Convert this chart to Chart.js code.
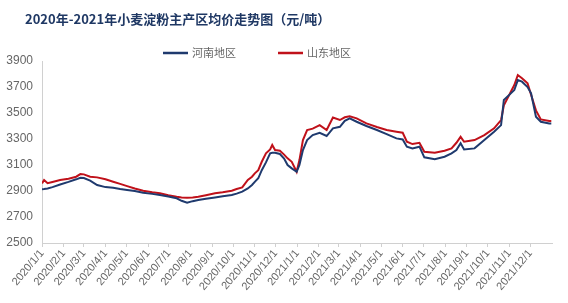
<!DOCTYPE html>
<html>
<head>
<meta charset="utf-8">
<script src="https://cdn.jsdelivr.net/npm/chart.js@4"></script>
<style>
  html, body { margin: 0; padding: 0; background: #fff; }
  #wrap { width: 568px; height: 303px; position: relative; }
</style>
</head>
<body>
<div id="wrap"><canvas id="chart" width="568" height="303"></canvas></div>
<script>
const TITLE = "2020年-2021年小麦淀粉主产区均价走势图（元/吨）";
const SERIES_NAMES = ["河南地区", "山东地区"];
const SERIES_COLORS = ["#1f3a6e", "#c0111a"];

const dates = [
  "2020-01-01", "2020-01-04", "2020-01-09", "2020-01-16", "2020-01-27", "2020-02-08",
  "2020-02-19", "2020-02-25", "2020-03-01", "2020-03-10", "2020-03-20", "2020-04-01",
  "2020-04-12", "2020-04-22", "2020-05-02", "2020-05-13", "2020-05-25", "2020-06-07",
  "2020-06-18", "2020-06-30", "2020-07-12", "2020-07-19", "2020-07-27", "2020-08-04",
  "2020-08-12", "2020-08-23", "2020-09-05", "2020-09-16", "2020-09-29", "2020-10-06",
  "2020-10-14", "2020-10-22", "2020-10-28", "2020-11-01", "2020-11-06", "2020-11-11",
  "2020-11-17", "2020-11-23", "2020-11-26", "2020-11-30", "2020-12-07", "2020-12-13",
  "2020-12-18", "2020-12-24", "2020-12-31", "2021-01-04", "2021-01-09", "2021-01-15",
  "2021-01-23", "2021-02-02", "2021-02-12", "2021-02-21", "2021-03-03", "2021-03-10",
  "2021-03-17", "2021-03-27", "2021-04-10", "2021-04-25", "2021-05-09", "2021-05-23",
  "2021-06-01", "2021-06-07", "2021-06-15", "2021-06-25", "2021-07-02", "2021-07-17",
  "2021-07-31", "2021-08-10", "2021-08-17", "2021-08-23", "2021-08-28", "2021-09-12",
  "2021-09-26", "2021-10-10", "2021-10-20", "2021-10-24", "2021-11-03", "2021-11-08",
  "2021-11-13", "2021-11-19", "2021-11-27", "2021-12-02", "2021-12-09", "2021-12-16",
  "2021-12-28", "2021-12-31",
];

const henan = [
  2913, 2915, 2920, 2930, 2950, 2970,
  2990, 3002, 3000, 2980, 2946, 2930,
  2925, 2915, 2908, 2900, 2887, 2878,
  2869, 2858, 2844, 2825, 2810, 2822,
  2831, 2840, 2851, 2860, 2869, 2880,
  2895, 2920, 2946, 2970, 2998, 3060,
  3120, 3190, 3194, 3194, 3185, 3150,
  3100, 3074, 3048, 3100, 3215, 3292,
  3330, 3348, 3323, 3382, 3394, 3440,
  3459, 3433, 3400, 3369, 3338, 3305,
  3297, 3241, 3228, 3241, 3159, 3144,
  3164, 3190, 3215, 3267, 3220, 3228,
  3292, 3356, 3407, 3600, 3651, 3677,
  3753, 3741, 3700, 3651, 3471, 3433,
  3420, 3420,
];

const shandong = [
  2959, 2985, 2960, 2970, 2985, 2995,
  3010, 3030, 3028, 3010, 3005, 2990,
  2971, 2955, 2938, 2920, 2902, 2890,
  2882, 2868, 2856, 2850, 2848, 2850,
  2856, 2868, 2882, 2890, 2902, 2915,
  2928, 2985, 3010, 3036, 3060, 3125,
  3190, 3220, 3254, 3215, 3210, 3180,
  3151, 3125, 3048, 3138, 3292, 3369,
  3380, 3407, 3369, 3465, 3446, 3467,
  3475, 3459, 3420, 3392, 3369, 3356,
  3348, 3279, 3261, 3271, 3202, 3194,
  3210, 3228, 3271, 3317, 3279, 3292,
  3330, 3382, 3446, 3560, 3664, 3715,
  3792, 3767, 3728, 3640, 3520, 3451,
  3438, 3438,
];

const monthTicks = [
  "2020/1/1", "2020/2/1", "2020/3/1", "2020/4/1", "2020/5/1", "2020/6/1",
  "2020/7/1", "2020/8/1", "2020/9/1", "2020/10/1", "2020/11/1", "2020/12/1",
  "2021/1/1", "2021/2/1", "2021/3/1", "2021/4/1", "2021/5/1", "2021/6/1",
  "2021/7/1", "2021/8/1", "2021/9/1", "2021/10/1", "2021/11/1", "2021/12/1",
];

const Y_MIN = 2500;
const Y_MAX = 3900;
const Y_STEP = 200;

const START = Date.UTC(2020, 0, 1);
function dayOf(str) {
  const [y, m, d] = str.split(/[-\/]/).map(Number);
  return (Date.UTC(y, m - 1, d) - START) / 86400000;
}
const tickDays = monthTicks.map(dayOf);
const tickLabel = {};
monthTicks.forEach((t, i) => { tickLabel[tickDays[i]] = t; });

function toPoints(values) {
  return values.map((v, i) => ({ x: dayOf(dates[i]), y: v }));
}

const GRAY = "#666666";
const AXIS = "#d0d0d0";

// title + legend drawn by hand so they sit where the original has them
const headerPlugin = {
  id: "header",
  afterDraw(chart) {
    const c = chart.ctx;
    c.save();
    c.fillStyle = "#1f3864";
    c.font = "bold 13px 'Noto Sans CJK SC'";
    c.textBaseline = "middle";
    c.textAlign = "left";
    c.fillText(TITLE, 25, 19);

    const items = [{ x: 163 }, { x: 278 }];
    c.font = "11px 'Noto Sans CJK SC'";
    items.forEach((it, i) => {
      c.strokeStyle = SERIES_COLORS[i];
      c.lineWidth = 2.5;
      c.beginPath();
      c.moveTo(it.x, 53);
      c.lineTo(it.x + 25, 53);
      c.stroke();
      c.fillStyle = GRAY;
      c.fillText(SERIES_NAMES[i], it.x + 29, 53);
    });
    c.restore();
  },
};

new Chart(document.getElementById("chart"), {
  type: "line",
  data: {
    datasets: [
      {
        label: SERIES_NAMES[0],
        data: toPoints(henan),
        borderColor: SERIES_COLORS[0],
        borderWidth: 2,
        pointRadius: 0,
        tension: 0,
      },
      {
        label: SERIES_NAMES[1],
        data: toPoints(shandong),
        borderColor: SERIES_COLORS[1],
        borderWidth: 2,
        pointRadius: 0,
        tension: 0,
      },
    ],
  },
  options: {
    responsive: false,
    animation: false,
    layout: { padding: { top: 61, right: 16, left: 5, bottom: 10 } },
    plugins: {
      legend: { display: false },
      title: { display: false },
      tooltip: { enabled: false },
    },
    scales: {
      x: {
        type: "linear",
        min: 0,
        max: dayOf("2022-01-01"),
        afterBuildTicks: (axis) => {
          axis.ticks = tickDays.map((v) => ({ value: v }));
        },
        // let the first slanted label hang into the left margin
        afterFit: (axis) => {
          axis.paddingLeft = 0;
        },
        ticks: {
          autoSkip: false,
          maxRotation: 50,
          minRotation: 50,
          padding: 0,
          color: GRAY,
          font: { family: "'Liberation Sans', 'Noto Sans'", size: 11 },
          callback: (v) => tickLabel[v] ?? "",
        },
        grid: {
          drawOnChartArea: false,
          drawTicks: true,
          tickLength: 4,
          color: AXIS,
        },
        border: { color: AXIS },
      },
      y: {
        min: Y_MIN,
        max: Y_MAX,
        afterFit: (axis) => {
          axis.width = 37;
        },
        ticks: {
          stepSize: Y_STEP,
          padding: 9,
          color: GRAY,
          font: { family: "'Liberation Sans', 'Noto Sans'", size: 12 },
          callback: (v) => String(v),
        },
        grid: { display: false, drawTicks: false },
        border: { color: AXIS },
      },
    },
  },
  plugins: [headerPlugin],
});
</script>
</body>
</html>
